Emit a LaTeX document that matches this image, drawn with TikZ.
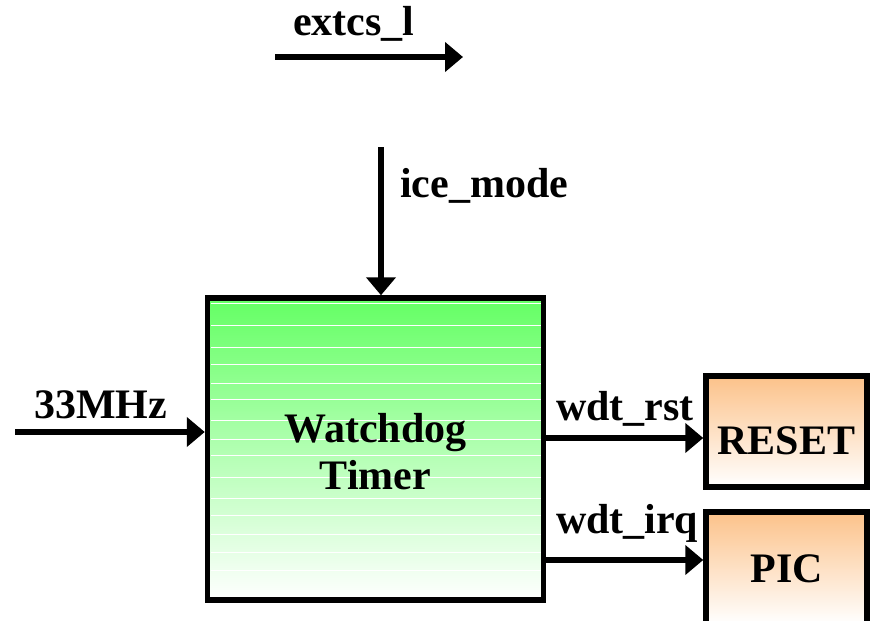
\documentclass[tikz,border=0pt]{standalone}
\usepackage{fontspec}
\setmainfont{Liberation Serif}
\usetikzlibrary{arrows.meta}
\definecolor{wdgreen}{RGB}{100,255,100}
\definecolor{boxorange}{RGB}{252,194,138}
\tikzset{
  arr/.style={line width=5.5pt, -{Triangle[length=18pt,width=29pt]}},
  lbl/.style={font=\bfseries\fontsize{42}{47}\selectfont, inner sep=0pt, anchor=base west},
  blockbox/.style={draw=black, line width=5.5pt, rectangle, inner sep=0pt,
     font=\bfseries\fontsize{42}{47}\selectfont, align=center},
  band/.style={white, line width=0.7pt}
}
\begin{document}
\begin{tikzpicture}[x=1pt,y=-1pt]
\useasboundingbox (0,0) rectangle (871,621);
% main block
\node[blockbox, minimum width=336pt, minimum height=302pt, top color=wdgreen, bottom color=white]
  (wd) at (375.5,449) {};
\foreach \yy in {303,325,347,364,383,399,420,439,455,477,498,515,534,552,570}
  \draw[band] (210.5,\yy) -- (540.5,\yy);
\node[font=\bfseries\fontsize{42}{47}\selectfont, align=center] (wdt) at (375.5,452) {Watchdog\\Timer};
% targets
\node[blockbox, minimum width=161pt, minimum height=111pt, top color=boxorange, bottom color=white,
  text height=45pt, text depth=0pt] (rs) at (786.5,431.5) {RESET};
\node[blockbox, minimum width=161pt, minimum height=112pt, top color=boxorange, bottom color=white,
  text height=28pt, text depth=0pt] (pic) at (786.5,568) {PIC};
% extcs_l
\coordinate (e1) at (275,57);
\coordinate (e2) at (463,57);
\draw[arr] (e1) -- (e2);
\node[lbl] (le) at (293,35) {extcs\_l};
% ice_mode
\coordinate (i1) at (381,147);
\draw[arr] (i1) -- (i1 |- wd.north);
\node[lbl] (li) at (400,197) {ice\_mode};
% 33MHz
\coordinate (c1) at (15,432);
\draw[arr] (c1) -- (c1 -| wd.west);
\node[lbl] (lc) at (34,418) {33MHz};
% outputs
\coordinate (r1) at (0,438);
\coordinate (q1) at (0,560);
\draw[arr] (wd.east |- r1) -- (rs.west |- r1);
\draw[arr] (wd.east |- q1) -- (pic.west |- q1);
\node[lbl] (lr) at (556,420) {wdt\_rst};
\node[lbl] (lq) at (556,533) {wdt\_irq};
\end{tikzpicture}
\end{document}
